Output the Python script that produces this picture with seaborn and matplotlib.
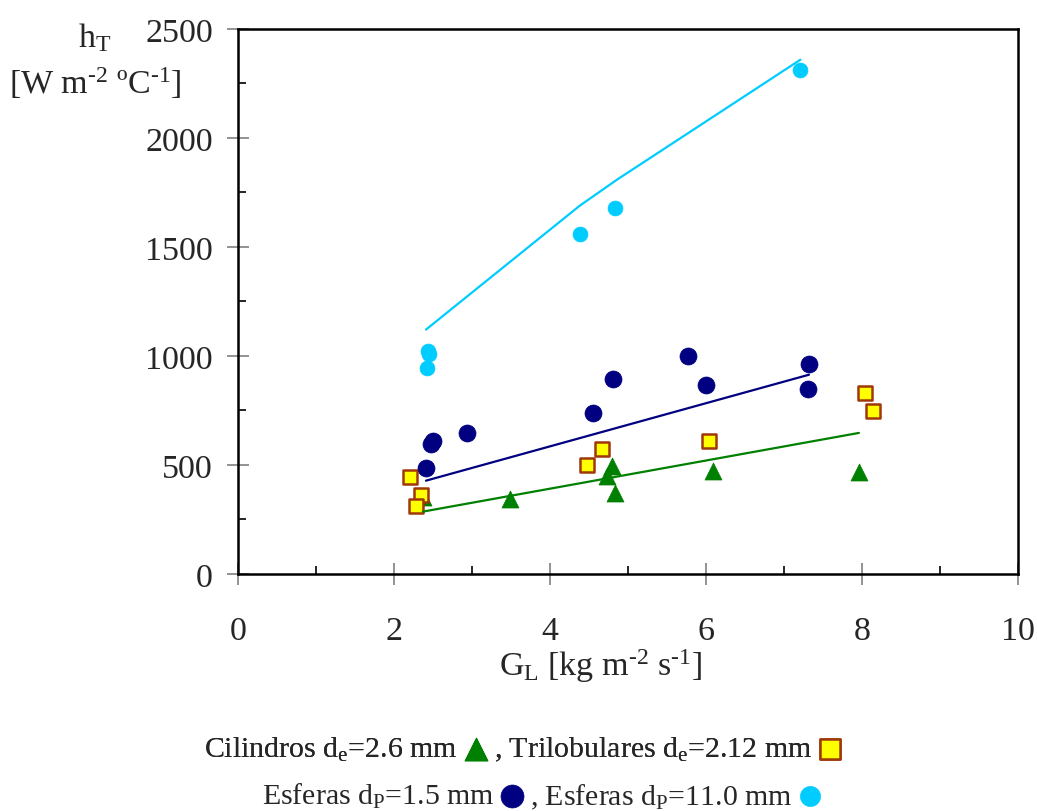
import numpy as np
import pandas as pd
import matplotlib.pyplot as plt
import seaborn as sns

# data
cil_x = [2.37, 3.49, 4.73, 4.79, 4.83, 6.09, 7.96]
cil_y = [353, 344, 450, 495, 372, 473, 468]
cil_fit_x = [2.37, 7.96]
cil_fit_y = [286, 647]

tri_x = [2.21, 2.35, 2.28, 4.48, 4.67, 6.04, 8.04, 8.14]
tri_y = [444, 364, 313, 500, 573, 611, 830, 748]

esf15_x = [2.41, 2.48, 2.50, 2.94, 4.55, 4.81, 5.77, 6.00, 7.32, 7.31]
esf15_y = [485, 598, 612, 645, 737, 894, 999, 867, 962, 849]
esf15_fit_x = [2.41, 7.32]
esf15_fit_y = [428, 914]

esf11_x = [2.43, 2.45, 2.42, 4.38, 4.83, 7.21]
esf11_y = [1023, 1009, 943, 1560, 1679, 2313]
esf11_fit_x = [2.41, 4.38, 4.86, 7.21]
esf11_fit_y = [1121, 1689, 1809, 2359]

x_ticks = [0, 2, 4, 6, 8, 10]
y_ticks = [0, 500, 1000, 1500, 2000, 2500]

green = "#008000"
navy = "#000080"
cyan = "#00CCFF"

sns.set_style("ticks")
plt.rcParams['font.family'] = ['Liberation Serif', 'DejaVu Serif']
plt.rcParams['mathtext.fontset'] = 'custom'
plt.rcParams['mathtext.rm'] = 'Liberation Serif'
plt.rcParams['mathtext.it'] = 'Liberation Serif:italic'

fig = plt.figure(figsize=(10.37, 8.12), dpi=100)
ax = fig.add_axes([0.2295, 0.2919, 0.7522, 0.6712])

# fitted lines
sns.lineplot(x=cil_fit_x, y=cil_fit_y, color=green, lw=1.6, ax=ax)
sns.lineplot(x=esf15_fit_x, y=esf15_fit_y, color=navy, lw=1.6, ax=ax)
sns.lineplot(x=esf11_fit_x, y=esf11_fit_y, color=cyan, lw=1.6, ax=ax)

# points
sns.scatterplot(x=cil_x, y=cil_y, marker="^", s=150, color=green,
                edgecolor=green, linewidth=0.5, ax=ax,
                label="Cilindros d$_\\mathrm{e}$=2.6 mm")
sns.scatterplot(x=tri_x, y=tri_y, marker="s", s=110, color="#FFFF00",
                edgecolor="#A0380A", linewidth=1.8, ax=ax,
                label=", Trilobulares d$_\\mathrm{e}$=2.12 mm")
sns.scatterplot(x=esf15_x, y=esf15_y, marker="o", s=150, color=navy,
                edgecolor=navy, linewidth=0.5, ax=ax,
                label="Esferas d$_\\mathrm{P}$=1.5 mm")
sns.scatterplot(x=esf11_x, y=esf11_y, marker="o", s=115, color=cyan,
                edgecolor=cyan, linewidth=0.5, ax=ax,
                label=", Esferas d$_\\mathrm{P}$=11.0 mm")

ax.set_xlim(0, 10)
ax.set_ylim(0, 2500)
ax.set_xticks(x_ticks)
ax.set_yticks(y_ticks)
ax.set_xticks(np.arange(1, 10, 2), minor=True)
ax.set_yticks(np.arange(250, 2500, 500), minor=True)
ax.tick_params(which="major", direction="inout", length=16, width=1.2,
               color="#808080", labelsize=24.5)
ax.tick_params(axis="y", which="major", pad=10)
ax.tick_params(axis="x", which="major", pad=22)
ax.tick_params(which="minor", direction="in", length=6, width=1.2,
               color="black")
for sp in ax.spines.values():
    sp.set_linewidth(1.8)
    sp.set_color("black")

# axis titles
fig.text(95 / 1037, 1 - 38 / 812, "h$_\\mathrm{T}$", fontsize=24.5,
         ha="center", va="center")
fig.text(95 / 1037, 1 - 83 / 812,
         "[W m$^{\\text{-2}}$ ºC$^{\\text{-1}}$]", fontsize=24.5,
         ha="center", va="center")
fig.text(601 / 1037, 1 - 666 / 812,
         "G$_\\mathrm{L}$ [kg m$^{\\text{-2}}$ s$^{\\text{-1}}$]",
         fontsize=24.5, ha="center", va="center")

ax.get_legend().remove()
h, l = ax.get_legend_handles_labels()
leg1 = fig.legend(h[:2], l[:2], loc="center", ncol=2, frameon=False,
                  markerfirst=False, fontsize=21.5, handlelength=0.8,
                  handletextpad=0.2, columnspacing=0.2, markerscale=1.35,
                  bbox_to_anchor=(523 / 1037, 1 - 750 / 812))
fig.add_artist(leg1)
fig.legend(h[2:], l[2:], loc="center", ncol=2, frameon=False,
           markerfirst=False, fontsize=21.5, handlelength=0.8,
           handletextpad=0.2, columnspacing=0.2, markerscale=1.35,
           bbox_to_anchor=(542 / 1037, 1 - 797 / 812))

fig.savefig("out.png", dpi=100)
